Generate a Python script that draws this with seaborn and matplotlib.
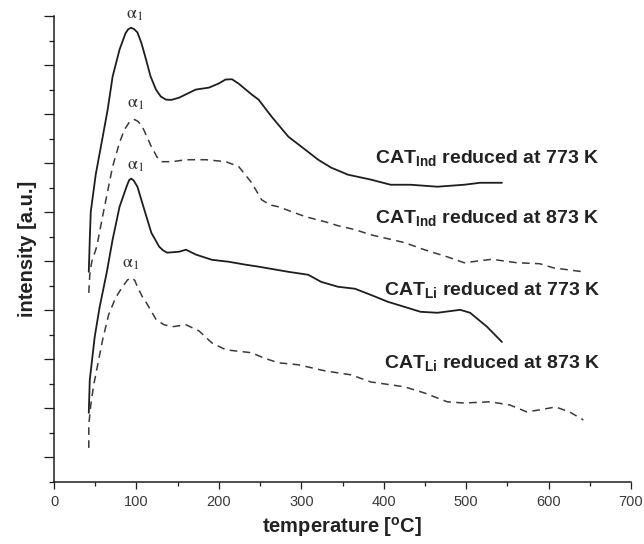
import numpy as np
import seaborn as sns
import matplotlib.pyplot as plt
from matplotlib.ticker import MultipleLocator, FixedLocator, NullFormatter

# temperature [C] / intensity [a.u.]
t_ind_773 = [42.2, 43.4, 44.6, 50.6, 57.8, 65.1, 71.1, 79.5, 86.7, 90.0, 93.6, 97.0, 101.2,
             106.0, 111.7, 117.0, 123.7, 129.5, 135.8, 142.5, 151.8, 171.9, 188.0, 200.0,
             208.1, 216.0, 224.1, 239.8, 248.2, 263.9, 284.3, 304.8, 320.5, 336.1, 356.6,
             384.3, 408.4, 432.5, 465.1, 497.6, 516.9, 543.4]
i_ind_773 = [8.57, 9.88, 11.02, 12.53, 13.84, 15.18, 16.53, 17.63, 18.29, 18.46, 18.52, 18.47, 18.33,
             17.90, 17.22, 16.55, 16.00, 15.72, 15.59, 15.58, 15.67, 16.00, 16.08, 16.25,
             16.41, 16.42, 16.24, 15.80, 15.59, 14.90, 14.08, 13.55, 13.14, 12.82, 12.53,
             12.33, 12.12, 12.12, 12.04, 12.12, 12.20, 12.20]

t_ind_873 = [42.2, 43.4, 45.8, 51.8, 60.2, 71.1, 79.5, 85.5, 92.0, 97.6, 102.0, 107.2, 118.1,
             125.0, 130.1, 143.4, 160.2, 184.3, 208.4, 224.1, 239.8, 251.8, 262.0, 272.3, 304.8,
             328.9, 344.6, 365.1, 384.3, 425.3, 449.4, 477.1, 497.6, 531.0, 561.4, 589.2, 606.0,
             642.2]
i_ind_873 = [7.71, 8.45, 8.98, 9.59, 11.04, 12.86, 13.84, 14.37, 14.70, 14.78, 14.70, 14.49, 13.67,
             13.25, 13.06, 13.06, 13.14, 13.14, 13.06, 12.86, 12.20, 11.51, 11.30, 11.22, 10.82,
             10.61, 10.45, 10.29, 10.08, 9.76, 9.47, 9.18, 8.94, 9.08, 8.94, 8.90, 8.73,
             8.57]

t_li_773 = [42.2, 43.4, 49.4, 55.4, 63.9, 71.1, 79.5, 88.0, 91.0, 93.6, 96.5, 101.2, 109.6,
            118.1, 127.7, 132.5, 137.3, 151.8, 160.2, 172.3, 191.6, 212.0, 232.5, 248.2,
            284.3, 308.4, 324.1, 344.6, 365.1, 384.3, 404.8, 425.3, 444.6, 465.1, 492.8,
            504.8, 525.3, 543.4]
i_li_773 = [2.82, 4.16, 5.92, 7.14, 8.53, 9.88, 11.22, 12.04, 12.30, 12.37, 12.30, 12.04, 11.10,
            10.16, 9.59, 9.44, 9.35, 9.39, 9.47, 9.27, 9.06, 8.98, 8.86, 8.78,
            8.57, 8.45, 8.16, 7.96, 7.88, 7.63, 7.35, 7.14, 6.94, 6.90, 7.02,
            6.90, 6.33, 5.71]

t_li_873 = [42.2, 42.2, 44.6, 48.2, 53.0, 59.0, 66.3, 74.7, 83.1, 89.2, 94.0, 98.0, 101.2,
            107.2, 112.0, 124.1, 133.7, 143.4, 160.2, 175.9, 191.6, 208.4, 239.8, 254.2,
            272.3, 296.4, 328.9, 360.2, 384.3, 425.3, 449.4, 477.1, 497.6, 528.9, 553.0,
            573.5, 589.2, 608.4, 625.3, 642.2]
i_li_873 = [1.39, 2.33, 3.14, 3.96, 4.78, 5.80, 6.82, 7.51, 7.96, 8.24, 8.33, 8.22, 7.96,
            7.55, 7.31, 6.61, 6.41, 6.33, 6.41, 6.16, 5.67, 5.39, 5.27, 5.06,
            4.86, 4.78, 4.53, 4.37, 4.08, 3.88, 3.63, 3.27, 3.22, 3.27, 3.14,
            2.86, 2.94, 3.06, 2.86, 2.53]

curve_labels = [r"CAT$_{\mathbf{Ind}}$ reduced at 773 K",
                r"CAT$_{\mathbf{Ind}}$ reduced at 873 K",
                r"CAT$_{\mathbf{Li}}$ reduced at 773 K",
                r"CAT$_{\mathbf{Li}}$ reduced at 873 K"]
label_y = [13.02, 10.57, 7.63, 4.65]
alpha_x = [87.5, 88.5, 88.5, 82.0]
alpha_y = [19.05, 15.43, 12.9, 8.9]

sns.set_style("ticks")
plt.rcParams['font.family'] = ['Liberation Sans', 'DejaVu Sans']
plt.rcParams['mathtext.fontset'] = 'custom'
plt.rcParams['mathtext.rm'] = 'Liberation Sans:bold'
plt.rcParams['mathtext.bf'] = 'Liberation Sans:bold'
plt.rcParams['mathtext.it'] = 'Liberation Sans:bold'

fig = plt.figure(figsize=(6.44, 5.44), dpi=100)
ax = fig.add_axes([54 / 644, 62 / 544, 577 / 644, 466 / 544])

ink = '#1e1e1e'
curves = [(t_ind_773, i_ind_773, '-'), (t_ind_873, i_ind_873, '--'),
          (t_li_773, i_li_773, '-'), (t_li_873, i_li_873, '--')]
for t, i, ls in curves:
    sns.lineplot(x=t, y=i, ax=ax, sort=False, estimator=None,
                 color=ink if ls == '-' else '#3a3a3a',
                 lw=1.3 if ls == '-' else 1.1, linestyle=ls)
for line in ax.lines:
    if line.get_linestyle() == '--':
        line.set_dashes((5, 3.5))

for txt, y in zip(curve_labels, label_y):
    ax.text(662, y, txt, ha='right', va='baseline', fontsize=14, fontweight='bold', color='#222222')

for x, y in zip(alpha_x, alpha_y):
    ax.text(x, y, r"$\mathrm{\alpha}_1$", ha='left', va='center', fontsize=13, color='#333333',
            math_fontfamily='stix', clip_on=False)

ax.set_xlim(0, 700)
ax.set_ylim(0, 19)
ax.xaxis.set_major_locator(MultipleLocator(100))
ax.xaxis.set_minor_locator(FixedLocator(np.arange(50, 700, 100)))
ax.yaxis.set_major_locator(FixedLocator(np.arange(1, 20, 2)))
ax.yaxis.set_minor_locator(FixedLocator(np.arange(0, 19, 2)))
ax.yaxis.set_major_formatter(NullFormatter())

ax.tick_params(axis='x', which='major', length=5, width=0.9, color=ink, labelsize=10.5,
               labelcolor='#3a3a3a', pad=4)
ax.tick_params(axis='x', which='minor', length=3, width=0.9, color=ink)
ax.tick_params(axis='y', which='major', length=7, width=0.9, color=ink)
ax.tick_params(axis='y', which='minor', length=3.5, width=0.9, color=ink)

sns.despine(ax=ax)
for s in ['left', 'bottom']:
    ax.spines[s].set_linewidth(1.1)
    ax.spines[s].set_color(ink)

ax.set_xlabel(r"temperature [$^{\mathrm{o}}$C]", fontsize=14.5, fontweight='bold', color='#222222', labelpad=5)
ax.set_ylabel("intensity [a.u.]", fontsize=14.5, fontweight='bold', color='#222222', labelpad=2)

fig.savefig('out.png', dpi=100)
